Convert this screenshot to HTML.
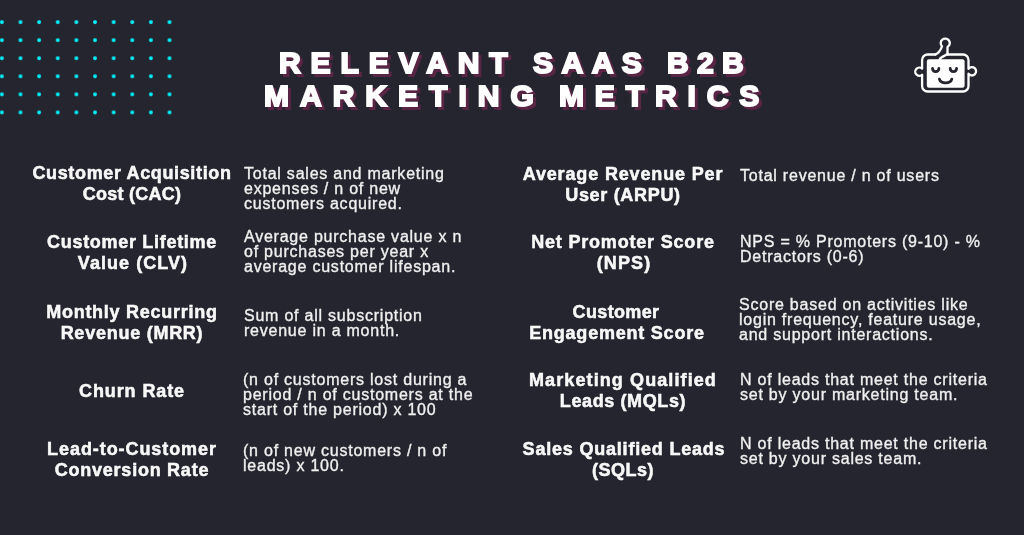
<!DOCTYPE html>
<html><head><meta charset="utf-8">
<style>
html,body{margin:0;padding:0;}
.t,.h,.d{will-change:transform;}
body{width:1024px;height:535px;background:#25252f;position:relative;overflow:hidden;font-family:"Liberation Sans",sans-serif;color:#f7f7f7;}
.t{position:absolute;white-space:nowrap;font-weight:bold;font-size:30px;color:#fff;-webkit-text-stroke:2px #fff;line-height:31px;}
.t.s{color:#582544;-webkit-text-stroke:2px #582544;}
.h{position:absolute;white-space:nowrap;font-weight:bold;font-size:18px;line-height:21px;text-align:center;width:260px;letter-spacing:0.79px;-webkit-text-stroke:0.5px #fff;}
.d{position:absolute;white-space:nowrap;font-size:16px;line-height:15.1px;letter-spacing:0.77px;color:#f0f0f0;-webkit-text-stroke:0.35px #f0f0f0;}
</style></head><body>
<svg width="1024" height="535" style="position:absolute;left:0;top:0">
<defs><pattern id="dp" x="-0.13" y="2.1" width="18.63" height="18.06" patternUnits="userSpaceOnUse"><circle cx="2" cy="2" r="2" fill="#00eef8"/></pattern></defs>
<rect x="0" y="17" width="173" height="99" fill="url(#dp)"/>
</svg>

<div class="t s" style="left:281.6px;top:50px;letter-spacing:9.89px">RELEVANT</div>
<div class="t s" style="left:536px;top:50px;letter-spacing:8.5px">SAAS</div>
<div class="t s" style="left:670.3px;top:50px;letter-spacing:8.35px">B2B</div>
<div class="t s" style="left:266.6px;top:83px;letter-spacing:11.01px">MARKETING</div>
<div class="t s" style="left:562.1px;top:83px;letter-spacing:10.88px">METRICS</div>
<div class="t" style="left:278.6px;top:47px;letter-spacing:9.89px">RELEVANT</div>
<div class="t" style="left:533px;top:47px;letter-spacing:8.5px">SAAS</div>
<div class="t" style="left:667.3px;top:47px;letter-spacing:8.35px">B2B</div>
<div class="t" style="left:263.6px;top:80px;letter-spacing:11.01px">MARKETING</div>
<div class="t" style="left:559.1px;top:80px;letter-spacing:10.88px">METRICS</div>

<!-- text -->
<div class="h" style="left:2.32px;top:163.25px;letter-spacing:0.637px">Customer Acquisition</div>
<div class="h" style="left:2.12px;top:184.25px;letter-spacing:0.234px">Cost (CAC)</div>
<div class="h" style="left:2.35px;top:231.9px;letter-spacing:0.696px">Customer Lifetime</div>
<div class="h" style="left:2.53px;top:252.9px;letter-spacing:1.060px">Value (CLV)</div>
<div class="h" style="left:2.37px;top:301.5px;letter-spacing:0.743px">Monthly Recurring</div>
<div class="h" style="left:2.37px;top:322.5px;letter-spacing:0.748px">Revenue (MRR)</div>
<div class="h" style="left:2.45px;top:380.75px;letter-spacing:0.890px">Churn Rate</div>
<div class="h" style="left:2.46px;top:438.6px;letter-spacing:0.923px">Lead-to-Customer</div>
<div class="h" style="left:2.38px;top:459.6px;letter-spacing:0.751px">Conversion Rate</div>
<div class="h" style="left:493.42px;top:163.5px;letter-spacing:0.846px">Average Revenue Per</div>
<div class="h" style="left:493.34px;top:184.5px;letter-spacing:0.680px">User (ARPU)</div>
<div class="h" style="left:493.40px;top:231.9px;letter-spacing:0.805px">Net Promoter Score</div>
<div class="h" style="left:493.55px;top:252.9px;letter-spacing:1.103px">(NPS)</div>
<div class="h" style="left:486.37px;top:301.5px;letter-spacing:0.347px">Customer</div>
<div class="h" style="left:487.09px;top:322.5px;letter-spacing:0.777px">Engagement Score</div>
<div class="h" style="left:493.45px;top:369.5px;letter-spacing:1.101px">Marketing Qualified</div>
<div class="h" style="left:493.30px;top:390.5px;letter-spacing:0.608px">Leads (MQLs)</div>
<div class="h" style="left:493.70px;top:438.6px;letter-spacing:0.798px">Sales Qualified Leads</div>
<div class="h" style="left:492.55px;top:459.6px;letter-spacing:0.510px">(SQLs)</div>
<div class="d" style="left:244px;top:165.85px">Total sales and marketing<br>expenses / n of new<br>customers acquired.</div>
<div class="d" style="left:244px;top:228.85px">Average purchase value x n<br>of purchases per year x<br>average customer lifespan.</div>
<div class="d" style="left:243.5px;top:308.10px">Sum of all subscription<br>revenue in a month.</div>
<div class="d" style="left:243.3px;top:372.35px">(n of customers lost during a<br>period / n of customers at the<br>start of the period) x 100</div>
<div class="d" style="left:242.5px;top:443.10px">(n of new customers / n of<br>leads) x 100.</div>
<div class="d" style="left:740px;top:168.00px">Total revenue / n of users</div>
<div class="d" style="left:740px;top:234.35px">NPS = % Promoters (9-10) - %<br>Detractors (0-6)</div>
<div class="d" style="left:739.3px;top:297.10px">Score based on activities like<br>login frequency, feature usage,<br>and support interactions.</div>
<div class="d" style="left:740px;top:372.35px">N of leads that meet the criteria<br>set by your marketing team.</div>
<div class="d" style="left:740px;top:435.60px">N of leads that meet the criteria<br>set by your sales team.</div>
<!-- /text -->
<!-- robot -->
<svg width="80" height="70" viewBox="900 30 80 70" style="position:absolute;left:900px;top:30px">
<g stroke="#fff" stroke-width="2.3" fill="none" stroke-linecap="round" stroke-linejoin="round">
<path d="M935.6 54.5 L927.6 54.5 A5.5 5.5 0 0 0 922.1 60 L922.1 68.66 A4.1 4.1 0 1 0 922.1 74.74 L922.1 86 A5.5 5.5 0 0 0 927.6 91.5 L963 91.5 A5.5 5.5 0 0 0 968.5 86 L968.5 73.77 A4.2 4.2 0 1 0 968.5 68.83 L968.5 60 A5.5 5.5 0 0 0 963 54.5 L947.5 54.5"/>
<path d="M935.2 54.5 C938 53.6 940.6 50 942.03 46.32 A4.55 4.55 0 1 1 947.525 47.04 C947.5 49.5 947.5 51.5 947.5 54.5"/>
<path d="M947.4 53.8 C946.4 56 941 55.8 939.6 59.4"/>
</g>
<rect x="926.8" y="59.3" width="37.8" height="28.4" rx="2.2" fill="#fff"/>
<g stroke="#25252f" stroke-width="2.8" fill="none" stroke-linecap="round">
<path d="M932.5 68.4 C932.8 72.6 938.6 72.6 938.9 68.4"/>
<path d="M950.2 68.4 C950.5 72.6 956.3 72.6 956.6 68.4"/>
<path d="M939.4 79.2 C940.8 84.2 950.4 84.2 951.8 79.2"/>
</g>
</svg>
</body></html>
